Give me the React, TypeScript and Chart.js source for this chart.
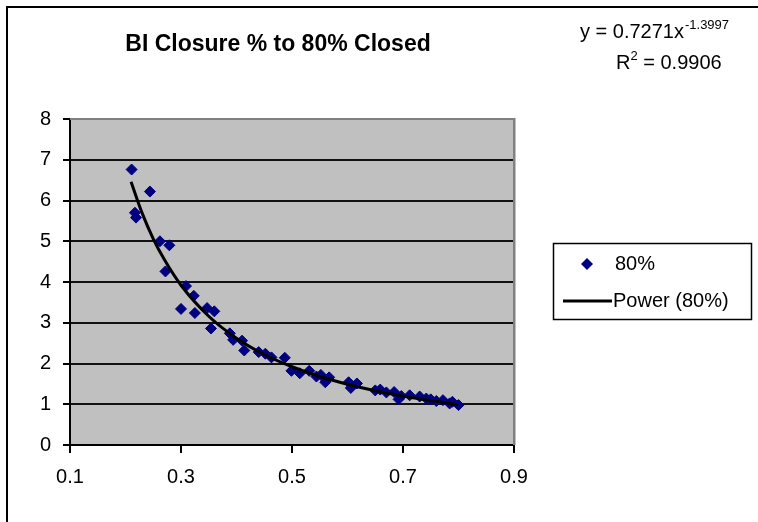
import React, { useEffect, useRef } from "react";
import { Chart, registerables } from "chart.js";

Chart.register(...registerables);

const titleText = "BI Closure % to 80% Closed";
const seriesName = "80%";
const trendName = "Power (80%)";
const equationMain = "y = 0.7271x";
const equationExp = "-1.3997";
const rSquaredBase = "R";
const rSquaredExp = "2";
const rSquaredValue = " = 0.9906";

const closureX = [
  0.211, 0.244, 0.217, 0.219, 0.262, 0.279, 0.272, 0.309, 0.323, 0.3,
  0.325, 0.347, 0.36, 0.354, 0.388, 0.394, 0.41, 0.414, 0.44, 0.452,
  0.463, 0.487, 0.499, 0.514, 0.531, 0.544, 0.552, 0.567, 0.56, 0.602,
  0.617, 0.606, 0.65, 0.659, 0.67, 0.684, 0.692, 0.697, 0.712, 0.73,
  0.742, 0.75, 0.76, 0.772, 0.784, 0.789, 0.8,
];
const closureY = [
  6.76, 6.22, 5.7, 5.58, 5.0, 4.9, 4.26, 3.9, 3.66, 3.34,
  3.24, 3.36, 3.28, 2.86, 2.74, 2.58, 2.56, 2.32, 2.28, 2.24,
  2.15, 2.14, 1.82, 1.76, 1.82, 1.68, 1.72, 1.66, 1.54, 1.54,
  1.51, 1.4, 1.34, 1.36, 1.29, 1.3, 1.12, 1.2, 1.22, 1.19,
  1.14, 1.12, 1.08, 1.1, 1.02, 1.06, 0.98,
];

const trendX = [0.21, 0.23, 0.25, 0.27, 0.3, 0.35, 0.4, 0.45, 0.5, 0.55, 0.6, 0.65, 0.7, 0.75, 0.8];
const trendY = [6.46, 5.69, 5.06, 4.55, 3.92, 3.16, 2.62, 2.22, 1.92, 1.68, 1.49, 1.33, 1.2, 1.09, 0.99];

const xTicks = [0.1, 0.3, 0.5, 0.7, 0.9];
const yTicks = [0, 1, 2, 3, 4, 5, 6, 7, 8];

const FONT = '"Liberation Sans", Arial, sans-serif';
const NAVY = "#000080";

const decorPlugin = {
  id: "decor",
  beforeDraw(chart: any) {
    const { ctx, chartArea, width, height } = chart;
    ctx.save();
    ctx.fillStyle = "#ffffff";
    ctx.fillRect(0, 0, width, height);
    // outer frame (left and top visible)
    ctx.fillStyle = "#000000";
    ctx.fillRect(6, 6, 2, height);
    ctx.fillRect(6, 6, width, 2);
    // plot area
    ctx.fillStyle = "#c0c0c0";
    ctx.fillRect(chartArea.left, chartArea.top, chartArea.right - chartArea.left, chartArea.bottom - chartArea.top);
    ctx.restore();
  },
  beforeDatasetsDraw(chart: any) {
    const { ctx, chartArea } = chart;
    ctx.save();
    ctx.fillStyle = "#808080";
    ctx.fillRect(chartArea.right - 1, chartArea.top - 1, 2.5, chartArea.bottom - chartArea.top + 1);
    ctx.fillRect(chartArea.left, chartArea.top - 1, chartArea.right - chartArea.left, 2);
    ctx.restore();
  },
  afterDraw(chart: any) {
    const { ctx } = chart;
    ctx.save();
    ctx.fillStyle = "#000000";
    ctx.textBaseline = "alphabetic";
    // title
    ctx.font = `bold 23px ${FONT}`;
    ctx.textAlign = "center";
    ctx.fillText(titleText, 278, 51);
    // equation
    ctx.textAlign = "left";
    ctx.font = `20px ${FONT}`;
    let x = 580;
    ctx.fillText(equationMain, x, 38);
    x += ctx.measureText(equationMain).width + 1;
    ctx.font = `13px ${FONT}`;
    ctx.fillText(equationExp, x, 29);
    ctx.font = `20px ${FONT}`;
    x = 616;
    ctx.fillText(rSquaredBase, x, 69);
    x += ctx.measureText(rSquaredBase).width;
    ctx.font = `13px ${FONT}`;
    ctx.fillText(rSquaredExp, x, 60);
    x += ctx.measureText(rSquaredExp).width;
    ctx.font = `20px ${FONT}`;
    ctx.fillText(rSquaredValue, x, 69);
    // legend
    ctx.strokeStyle = "#000000";
    ctx.lineWidth = 1.5;
    ctx.strokeRect(553.5, 243.5, 198, 76);
    ctx.fillStyle = NAVY;
    ctx.beginPath();
    const dx = 587, dy = 264, r = 6;
    ctx.moveTo(dx - r, dy);
    ctx.lineTo(dx, dy - r);
    ctx.lineTo(dx + r, dy);
    ctx.lineTo(dx, dy + r);
    ctx.closePath();
    ctx.fill();
    ctx.fillStyle = "#000000";
    ctx.textBaseline = "middle";
    ctx.font = `20px ${FONT}`;
    ctx.fillText(seriesName, 615, 264);
    ctx.lineWidth = 3;
    ctx.beginPath();
    ctx.moveTo(563, 301);
    ctx.lineTo(612, 301);
    ctx.stroke();
    ctx.fillText(trendName, 613, 301);
    ctx.restore();
  },
};

export default function App() {
  const canvasRef = useRef<HTMLCanvasElement | null>(null);

  useEffect(() => {
    if (!canvasRef.current) return;
    const points = closureX.map((x, i) => ({ x, y: closureY[i] }));
    const trend = trendX.map((x, i) => ({ x, y: trendY[i] }));
    const chart = new Chart(canvasRef.current, {
      type: "scatter",
      data: {
        datasets: [
          {
            label: trendName,
            data: trend,
            showLine: true,
            borderColor: "#000000",
            borderWidth: 3,
            pointRadius: 0,
            cubicInterpolationMode: "monotone",
            order: 0,
          } as any,
          {
            label: seriesName,
            data: points,
            pointStyle: "rectRot",
            pointRadius: 5.5,
            pointBackgroundColor: NAVY,
            pointBorderColor: NAVY,
            pointBorderWidth: 1,
            order: 1,
          } as any,
        ],
      },
      options: {
        animation: false,
        responsive: false,
        devicePixelRatio: 1,
        layout: { padding: { left: 0, right: 244, top: 119, bottom: 0 } },
        plugins: {
          legend: { display: false },
          title: { display: false },
          tooltip: { enabled: false },
        },
        scales: {
          x: {
            type: "linear",
            min: 0.1,
            max: 0.9,
            afterBuildTicks(scale: any) {
              scale.ticks = xTicks.map((v) => ({ value: v }));
            },
            afterFit(scale: any) {
              scale.height = 77;
              scale.paddingLeft = 0;
              scale.paddingRight = 0;
            },
            grid: {
              drawOnChartArea: false,
              drawTicks: true,
              tickLength: 8,
              color: "#000000",
              tickColor: "#000000",
              lineWidth: 2,
            },
            border: { color: "#000000", width: 2 },
            ticks: {
              color: "#000000",
              font: { family: FONT, size: 20 },
              padding: 12,
              maxRotation: 0,
              callback: (v: any) => Number(v).toFixed(1),
            },
          },
          y: {
            type: "linear",
            min: 0,
            max: 8,
            afterBuildTicks(scale: any) {
              scale.ticks = yTicks.map((v) => ({ value: v }));
            },
            afterFit(scale: any) {
              scale.width = 70;
              scale.paddingTop = 0;
              scale.paddingBottom = 0;
            },
            grid: {
              drawOnChartArea: true,
              drawTicks: true,
              tickLength: 7,
              color: (c: any) => (c.tick && c.tick.value === 8 ? "rgba(0,0,0,0)" : "#111111"),
              tickColor: "#000000",
              lineWidth: 2,
            },
            border: { color: "#000000", width: 2 },
            ticks: {
              color: "#000000",
              font: { family: FONT, size: 20 },
              padding: 12,
              callback: (v: any) => String(v),
            },
          },
        },
      },
      plugins: [decorPlugin],
    });
    return () => chart.destroy();
  }, []);

  return (
    <div style={{ position: "absolute", left: 0, top: 0, width: 758, height: 522 }}>
      <canvas ref={canvasRef} width={758} height={522} style={{ display: "block" }} />
    </div>
  );
}
